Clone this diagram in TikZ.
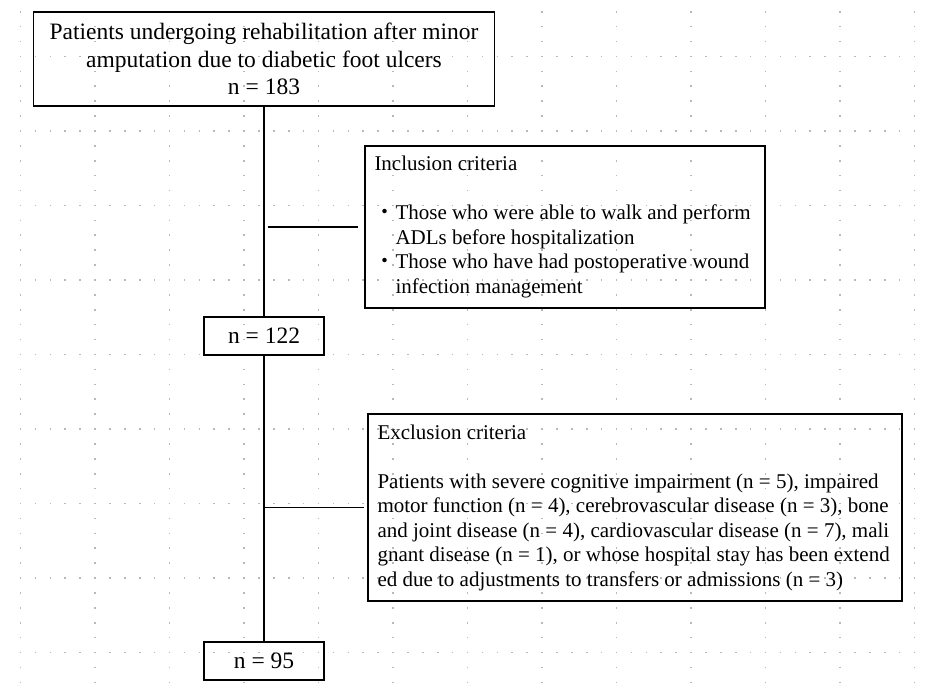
\documentclass[tikz,border=0pt]{standalone}
\usepackage{fontspec}
\setmainfont{Liberation Serif}
\newfontfamily\jpfont{Noto Sans CJK JP}

\begin{document}
\begin{tikzpicture}[x=1pt,y=-1pt,
  box/.style={draw,line width=1.2pt,inner sep=0pt},
  big/.style={font=\fontsize{23.5}{27.5}\selectfont},
  crit/.style={box,align=flush left,inner xsep=9.5pt,font=\fontsize{21}{24.5}\selectfont},
  link/.style={line width=1.2pt},
  griddots/.style={draw=black!28,line width=1.6pt,dash pattern=on 1.6pt off 13.3pt}]

\useasboundingbox (0,0) rectangle (927,695);

\foreach \k in {0,...,12}
  \draw[griddots] (20.5+74.5*\k,11) -- (20.5+74.5*\k,683);
\foreach \k in {0,...,8}
  \draw[griddots] (19.7,56.5+74.5*\k) -- (916,56.5+74.5*\k);

\node[box,big,align=flush center,minimum width=461pt,minimum height=94pt] (pop) at (264,59)
  {Patients undergoing rehabilitation after minor\\amputation due to diabetic foot ulcers\\n = 183};

\node[crit,text width=381pt,minimum height=162pt] (incl) at (565,227)
  {Inclusion criteria\\[24.5pt]
   {\jpfont ・}Those who were able to walk and perform\\
   \hspace*{21pt}ADLs before hospitalization\\
   {\jpfont ・}Those who have had postoperative wound\\
   \hspace*{21pt}infection management};

\node[box,big,minimum width=120pt,minimum height=38pt] (incl-n) at (264,336) {n = 122};

\node[crit,text width=515pt,minimum height=187pt] (excl) at (635,507.5)
  {Exclusion criteria\\[24.5pt]
   Patients with severe cognitive impairment (n = 5), impaired\\
   motor function (n = 4), cerebrovascular disease (n = 3), bone\\
   and joint disease (n = 4), cardiovascular disease (n = 7), mali\\
   gnant disease (n = 1), or whose hospital stay has been extend\\
   ed due to adjustments to transfers or admissions (n = 3)};

\node[box,big,minimum width=120pt,minimum height=38pt] (excl-n) at (264,661) {n = 95};

\draw[link] (pop) -- (incl-n);
\draw[link] (incl-n) -- (excl-n);
\draw[link,shorten <=3.5pt,shorten >=6pt] (pop.south |- incl.west) -- (incl.west);
\draw[link,shorten >=3pt] (pop.south |- excl.west) -- (excl.west);

\end{tikzpicture}
\end{document}
